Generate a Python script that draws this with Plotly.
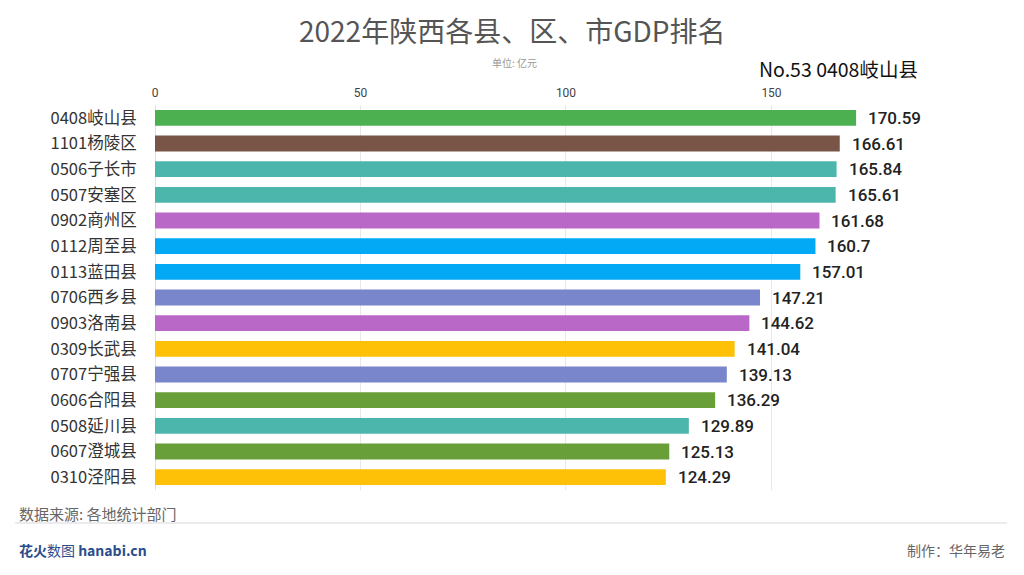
import plotly.graph_objects as go

categories = ["0408岐山县", "1101杨陵区", "0506子长市", "0507安塞区", "0902商州区",
              "0112周至县", "0113蓝田县", "0706西乡县", "0903洛南县", "0309长武县",
              "0707宁强县", "0606合阳县", "0508延川县", "0607澄城县", "0310泾阳县"]
values = [170.59, 166.61, 165.84, 165.61, 161.68, 160.7, 157.01, 147.21, 144.62,
          141.04, 139.13, 136.29, 129.89, 125.13, 124.29]
value_labels = ["170.59", "166.61", "165.84", "165.61", "161.68", "160.7", "157.01",
                "147.21", "144.62", "141.04", "139.13", "136.29", "129.89", "125.13", "124.29"]
colors = ["#4CAF50", "#795548", "#4DB6AC", "#4DB6AC", "#BA68C8", "#03A9F4", "#03A9F4",
          "#7986CB", "#BA68C8", "#FFC107", "#7986CB", "#689F38", "#4DB6AC", "#689F38", "#FFC107"]
tick_vals = [0, 50, 100, 150]

CJK = "Noto Sans CJK SC"
L, R, T, B = 155, 24, 105, 85
PW, PH = 1024 - L - R, 575 - T - B

fig = go.Figure()
fig.add_trace(go.Bar(
    x=values, y=categories, orientation="h",
    marker=dict(color=colors, line=dict(width=0)),
    width=0.62, hoverinfo="x+y",
))

for c, v, t in zip(categories, values, value_labels):
    fig.add_annotation(x=v, y=c, text=t, showarrow=False, xanchor="left",
                       xshift=10, font=dict(family="Roboto", size=17, color="#222", weight=500),
                       xref="x", yref="y")

fig.update_layout(
    width=1024, height=575,
    margin=dict(l=L, r=R, t=T, b=B),
    paper_bgcolor="white", plot_bgcolor="white",
    showlegend=False,
    xaxis=dict(range=[0, 205.6], side="top", tickvals=tick_vals, automargin=False,
               showgrid=True, gridcolor="#e8e8e8", gridwidth=1,
               zeroline=True, zerolinecolor="#e0e0e0", zerolinewidth=1,
               showline=False, ticks="", ticklabelstandoff=5,
               tickfont=dict(family="Roboto", size=12, color="#444")),
    yaxis=dict(categoryorder="array", categoryarray=categories[::-1], automargin=False,
               range=[-0.5, 14.5], showgrid=False, zeroline=False, showline=False,
               ticks="outside", ticklen=14, tickcolor="rgba(0,0,0,0)",
               tickfont=dict(family=CJK, size=16.5, color="#333")),
    font=dict(family=CJK),
)


def px_text(text, px, py, size, color, anchor="left", family=CJK):
    xp = (px - L) / PW
    yp = 1 - (py - T) / PH
    fig.add_annotation(text=text, x=xp, y=yp, xref="paper", yref="paper",
                       showarrow=False, xanchor=anchor, yanchor="middle",
                       font=dict(family=family, size=size, color=color))


px_text("2022年陕西各县、区、市GDP排名", 512, 30, 28, "#555", anchor="center")
px_text("单位: 亿元", 514, 62, 10, "#999", anchor="center")
px_text("No.53 0408岐山县", 920, 68, 19.5, "#111", anchor="right")
px_text("数据来源: 各地统计部门", 17, 513, 15, "#666", anchor="left")
px_text("<b>花火</b>数图 <b>hanabi.cn</b>", 17, 550, 14, "#2B4C8C", anchor="left")
px_text("制作：华年易老", 1007, 550, 14, "#666", anchor="right")

fig.add_shape(type="line", xref="paper", yref="paper",
              x0=(15 - L) / PW, x1=(1007 - L) / PW,
              y0=1 - (523 - T) / PH, y1=1 - (523 - T) / PH,
              line=dict(color="#e5e5e5", width=1.5))

fig.write_html("out.html", config={"displayModeBar": False},
               post_script="document.body.style.margin='0';document.body.style.overflow='hidden';")
